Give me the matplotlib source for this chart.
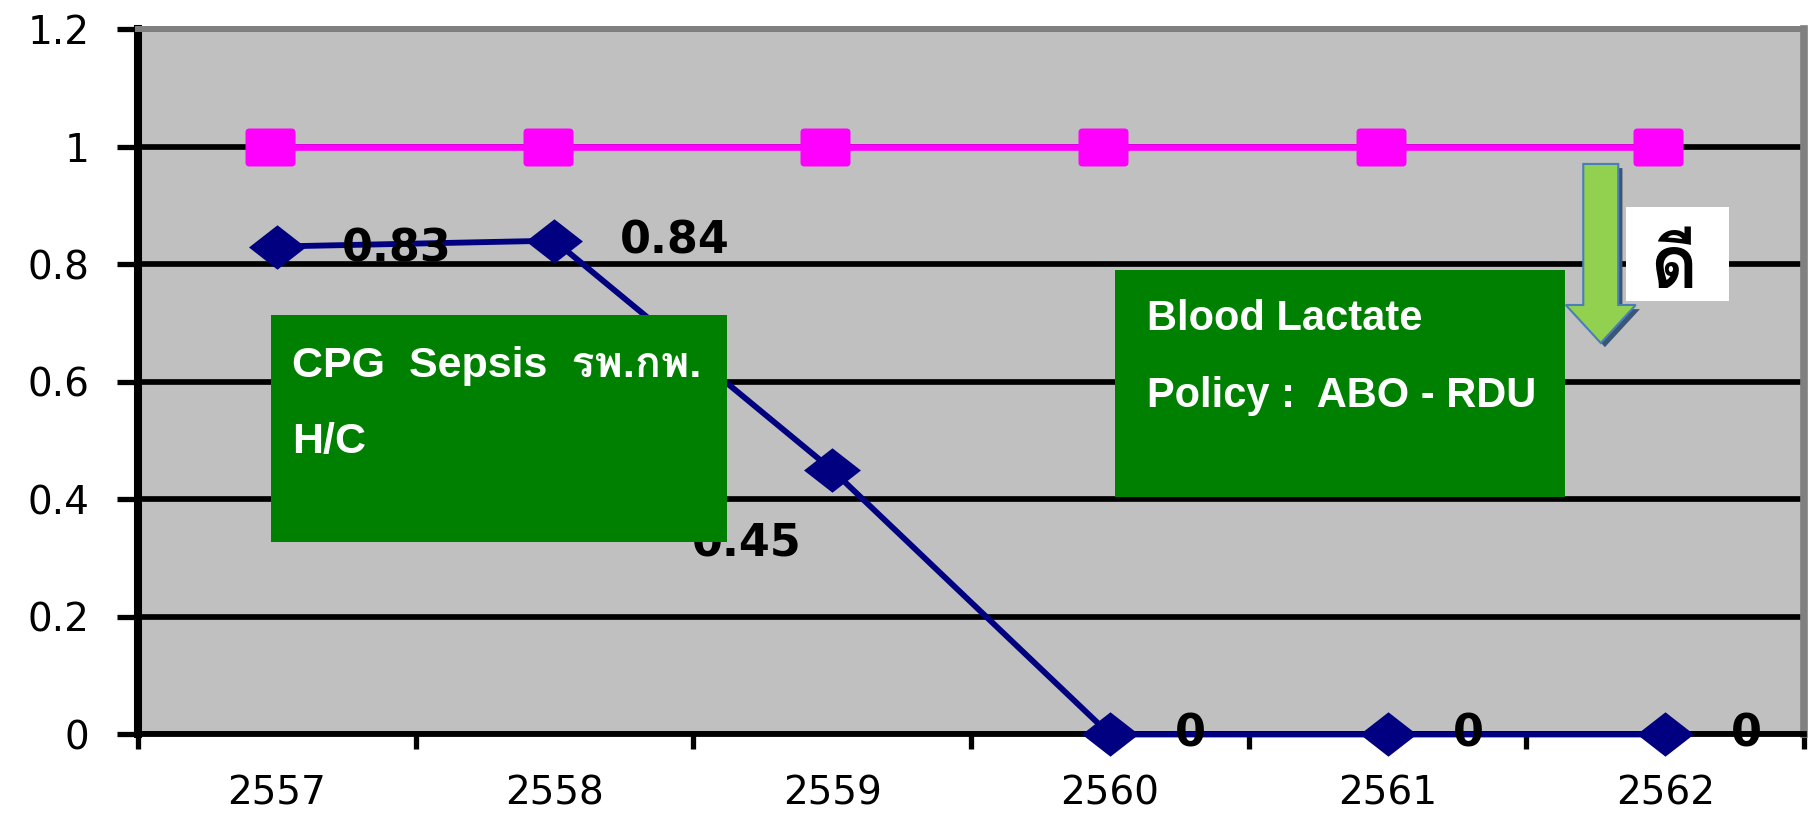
import numpy as np
import matplotlib
matplotlib.use('Agg')
from matplotlib import pyplot as plt
from matplotlib import font_manager, transforms
from matplotlib.path import Path
from matplotlib.patches import Rectangle, Polygon
from matplotlib.ticker import FuncFormatter

#Data
years = ['2557', '2558', '2559', '2560', '2561', '2562']
rate = [0.83, 0.84, 0.45, 0, 0, 0]
target = [1, 1, 1, 1, 1, 1]
rate_labels = ['0.83', '0.84', '0.45', '0', '0', '0']


def thai_family():
    # first installed font that carries Thai glyphs
    from fontTools.ttLib import TTFont
    for entry in font_manager.fontManager.ttflist:
        try:
            cmap = TTFont(entry.fname, fontNumber=0, lazy=True).getBestCmap()
        except Exception:
            continue
        if cmap and 0x0E14 in cmap:
            return entry.name
    return 'DejaVu Sans'


THAI = thai_family()


def rounded_box(w=1.0, h=0.76, r=0.16):
    verts = [(-w + r, -h), (w - r, -h), (w, -h), (w, -h + r),
             (w, h - r), (w, h), (w - r, h),
             (-w + r, h), (-w, h), (-w, h - r),
             (-w, -h + r), (-w, -h), (-w + r, -h)]
    codes = [Path.MOVETO, Path.LINETO, Path.CURVE3, Path.CURVE3,
             Path.LINETO, Path.CURVE3, Path.CURVE3,
             Path.LINETO, Path.CURVE3, Path.CURVE3,
             Path.LINETO, Path.CURVE3, Path.CURVE3]
    return Path(verts, codes)


#Markers
box_marker = rounded_box()
diamond_marker = Path([(-1, 0), (0, 0.78), (1, 0), (0, -0.78), (-1, 0)])

#Plotting
fig = plt.figure(figsize=(18.1, 8.19), dpi=100)
ax = fig.add_axes([0.0762, 0.1032, 0.9205, 0.8614])
ax.set_facecolor('#C0C0C0')
ax.set_axisbelow(True)

x = np.arange(len(years))
shift_left = transforms.offset_copy(ax.transData, fig, x=-5, y=0, units='points')

ax.plot(x, target, color='#FF00FF', lw=4.8, marker=box_marker, markersize=36,
        markeredgewidth=0, transform=shift_left, zorder=2, clip_on=False)
ax.plot(x, rate, color='#000080', lw=4.2, marker=diamond_marker, markersize=41,
        markeredgewidth=0, zorder=2.6, clip_on=False)

label_offsets = [(47, -2), (47, 0), (-101, -53), (47, 0), (47, 0), (47, 0)]
for i, txt in enumerate(rate_labels):
    ax.annotate(txt, (x[i], rate[i]), xytext=label_offsets[i], textcoords='offset points',
                ha='left', va='center', fontsize=32, fontweight='bold', color='black', zorder=3)

#Axes
ax.set_xlim(-0.5, len(years) - 0.5)
ax.set_ylim(0, 1.2)
ax.set_yticks(np.arange(0, 1.21, 0.2))
ax.yaxis.set_major_formatter(FuncFormatter(lambda v, p: '%g' % round(v, 1)))
ax.set_xticks(np.arange(-0.5, len(years)), labels=[])
ax.set_xticks(x, labels=years, minor=True)

ax.grid(axis='y', color='black', lw=4.1)
ax.tick_params(axis='y', length=15, width=3.8, pad=20, labelsize=28)
ax.tick_params(axis='x', which='major', length=11, width=3.8)
ax.tick_params(axis='x', which='minor', length=0, pad=29, labelsize=28)

ax.spines['left'].set_linewidth(5.8)
ax.spines['bottom'].set_linewidth(4.2)
ax.spines['top'].set_color('#808080')
ax.spines['top'].set_linewidth(4.3)
ax.spines['right'].set_color('#808080')
ax.spines['right'].set_linewidth(5.5)

#Notes
ax.add_patch(Rectangle((0.0798, 0.2729), 0.2737, 0.3217, transform=ax.transAxes,
                       facecolor='#008000', edgecolor='none', zorder=4))
ax.text(0.0924, 0.5067, 'CPG  Sepsis  รพ.กพ.', transform=ax.transAxes, color='white',
        fontsize=31, fontweight='bold', family=['Liberation Sans', THAI, 'DejaVu Sans'],
        va='baseline', zorder=5)
ax.text(0.0924, 0.3990, 'H/C', transform=ax.transAxes, color='white',
        fontsize=31, fontweight='bold', family=['Liberation Sans', 'DejaVu Sans'],
        va='baseline', zorder=5)

ax.add_patch(Rectangle((0.5864, 0.3366), 0.2701, 0.3218, transform=ax.transAxes,
                       facecolor='#008000', edgecolor='none', zorder=4))
ax.text(0.6056, 0.5734, 'Blood Lactate', transform=ax.transAxes, color='white',
        fontsize=30, fontweight='bold', family=['Liberation Sans', 'DejaVu Sans'],
        va='baseline', zorder=5)
ax.text(0.6056, 0.4642, 'Policy :  ABO - RDU', transform=ax.transAxes, color='white',
        fontsize=30, fontweight='bold', family=['Liberation Sans', 'DejaVu Sans'],
        va='baseline', zorder=5)

# down arrow with a drop shadow
cx, sw, hw = 0.878, 0.0105, 0.021
arrow_pts = [(cx - sw, 0.8087), (cx + sw, 0.8087), (cx + sw, 0.6088), (cx + hw, 0.6088),
             (cx, 0.5549), (cx - hw, 0.6088), (cx - sw, 0.6088)]
shadow = transforms.offset_copy(ax.transAxes, fig, x=3, y=-3, units='points')
ax.add_patch(Polygon(arrow_pts, closed=True, transform=shadow, facecolor='#3A5578',
                     edgecolor='none', zorder=4))
ax.add_patch(Polygon(arrow_pts, closed=True, transform=ax.transAxes, facecolor='#92D050',
                     edgecolor='#4A7EBB', lw=1.5, zorder=4.5))

ax.add_patch(Rectangle((0.8932, 0.6145), 0.0618, 0.1332, transform=ax.transAxes,
                       facecolor='white', edgecolor='none', zorder=4))
ax.text(0.9075, 0.6329, 'ดี', transform=ax.transAxes, color='black', fontsize=52,
        fontweight='bold', family=[THAI, 'DejaVu Sans'], va='baseline', zorder=5)

fig.savefig('out.png', dpi=100)
